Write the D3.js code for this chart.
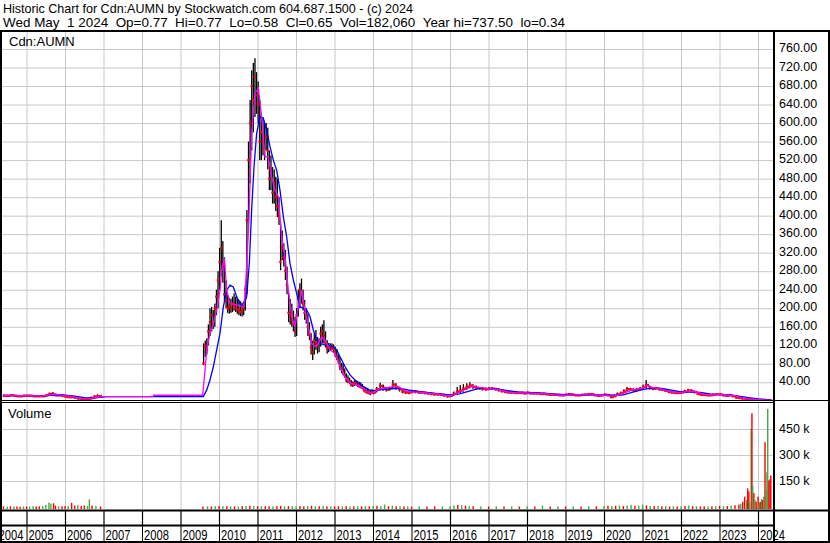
<!DOCTYPE html>
<html><head><meta charset="utf-8">
<script src="https://cdn.jsdelivr.net/npm/d3@7"></script>
<style>
body{margin:0;background:#fff}
svg{display:block}
text{font-family:"Liberation Sans",Arial,sans-serif;fill:#000}
</style>
</head><body>
<svg id="c" width="830" height="543"></svg>
<script>
// ---------------- DATA ----------------
const titleLine1 = "Historic Chart for Cdn:AUMN by Stockwatch.com 604.687.1500 - (c) 2024";
const titleLine2 = "Wed May \u00a01 2024 \u00a0Op=0.77 \u00a0Hi=0.77 \u00a0Lo=0.58 \u00a0Cl=0.65 \u00a0Vol=182,060 \u00a0Year hi=737.50 \u00a0lo=0.34";
const symbolLabel = "Cdn:AUMN";
const volumeLabel = "Volume";
const yearTicks = [2004,2005,2006,2007,2008,2009,2010,2011,2012,2013,2014,2015,2016,2017,2018,2019,2020,2021,2022,2023,2024];
const priceTicks = [40,80,120,160,200,240,280,320,360,400,440,480,520,560,600,640,680,720,760];
const volumeTicks = [150000,300000,450000];

// [year, high, low, close]
const priceEarly = [
[2004.40,14,9,11],[2004.50,13,9,11],[2004.58,14,10,12],[2004.67,13,9,11],[2004.75,13,9,10],[2004.83,12,8,10],
[2004.92,13,9,11],[2005.00,13,9,11],[2005.08,13,9,11],[2005.17,12,8,10],[2005.25,12,8,10],[2005.33,12,8,10],
[2005.42,12,8,10],[2005.50,14,9,12],[2005.58,17,11,15],[2005.67,19,12,14],[2005.75,16,10,12],[2005.83,15,10,12],
[2005.92,14,9,11],[2006.00,12,7,9],[2006.08,11,6,8],[2006.17,11,6,8],[2006.25,10,5,7],[2006.33,8,3,5],
[2006.42,7,2,4],[2006.50,6,1.5,3],[2006.58,7,2,4],[2006.67,9,3,6],[2006.75,12,5,9],[2006.83,14,7,10],[2006.92,13,7,9]
];
const priceMain = [
[2009.583,124,77,81],[2009.625,130,95,118],[2009.667,135,100,110],[2009.708,165,120,150],[2009.750,200,140,170],
[2009.792,203,150,185],[2009.833,196,155,165],[2009.875,210,160,200],[2009.917,240,185,225],[2009.958,280,200,260],
[2010.000,330,240,300],[2010.042,390,270,330],[2010.083,345,255,290],[2010.125,310,215,230],[2010.167,260,200,215],
[2010.208,228,190,200],[2010.250,222,188,205],[2010.292,220,190,200],[2010.333,225,192,210],[2010.375,232,195,205],
[2010.417,225,192,200],[2010.458,222,188,198],[2010.500,218,185,195],[2010.542,215,183,192],[2010.583,212,182,195],
[2010.625,215,185,200],[2010.667,250,195,240],[2010.708,412,230,390],[2010.750,560,383,520],[2010.792,650,470,600],
[2010.833,714,541,680],[2010.875,730,580,650],[2010.917,740,613,700],[2010.958,710,620,660],[2011.000,690,600,640],
[2011.042,650,520,560],[2011.083,620,520,580],[2011.125,613,530,560],[2011.167,600,520,545],[2011.208,600,541,570],
[2011.250,590,500,540],[2011.292,541,455,480],[2011.333,530,455,500],[2011.375,505,426,450],[2011.417,500,426,470],
[2011.458,484,410,440],[2011.500,480,397,420],[2011.542,440,380,400],[2011.583,383,282,300],[2011.625,368,304,330],
[2011.667,340,290,310],[2011.708,326,261,280],[2011.750,290,230,250],[2011.792,232,170,190],[2011.833,220,165,185],
[2011.875,210,160,175],[2011.917,195,150,165],[2011.958,182,138,150],[2012.000,200,140,185],[2012.042,240,182,220],
[2012.083,254,200,240],[2012.125,264,210,230],[2012.167,240,195,210],[2012.208,218,175,190],[2012.250,200,167,180],
[2012.292,189,140,160],[2012.333,170,131,145],[2012.375,146,100,115],[2012.417,130,88,105],[2012.458,145,100,130],
[2012.500,153,110,125],[2012.542,138,102,118],[2012.583,135,105,125],[2012.625,160,117,145],[2012.667,165,125,150],
[2012.708,174,124,140],[2012.750,150,115,125],[2012.792,131,102,115],[2012.833,125,105,115],[2012.875,124,108,118],
[2012.917,124,110,115],[2012.958,122,105,112],[2013.000,117,95,105],[2013.042,112,88,95],[2013.083,100,80,88],
[2013.125,95,66,75],[2013.167,82,60,70],[2013.208,81,55,62],[2013.250,70,50,55],[2013.292,59,40,45],
[2013.333,55,38,45],[2013.375,50,36,42],[2013.417,45,31,35],[2013.458,42,30,36],[2013.500,44,32,38],
[2013.542,45,33,40],[2013.583,43,30,35],[2013.625,41,28,33],[2013.667,40,27,30],[2013.708,36,25,28],
[2013.750,31,20,23],[2013.792,28,18,20],[2013.833,26,16,18],[2013.875,23,14,17],[2013.917,22,12,16],[2013.958,25,15,20]
];
const priceLate = [
[2014.00,22,14,18],[2014.08,30,18,25],[2014.17,39,23,32],[2014.25,35,22,28],[2014.33,28,20,24],[2014.42,30,22,27],
[2014.50,45,25,35],[2014.58,38,24,30],[2014.67,30,20,25],[2014.75,25,16,20],[2014.83,22,15,18],[2014.92,22,14,18],
[2015.00,24,16,20],[2015.08,23,16,20],[2015.17,21,15,18],[2015.25,21,15,18],[2015.33,20,14,17],[2015.42,19,13,16],
[2015.50,18,12,15],[2015.58,17,11,14],[2015.67,17,11,14],[2015.75,16,10,13],[2015.83,15,9,12],[2015.92,13,7,10],
[2016.00,14,8,11],[2016.08,20,10,15],[2016.17,30,14,20],[2016.25,34,16,22],[2016.33,36,20,26],[2016.42,38,24,30],
[2016.50,40,27,33],[2016.58,36,26,30],[2016.67,33,24,28],[2016.75,30,24,27],[2016.83,30,22,26],[2016.92,28,22,25],
[2017.00,30,23,26],[2017.08,30,23,26],[2017.17,28,22,25],[2017.25,27,20,23],[2017.33,25,18,21],[2017.42,22,17,19],
[2017.50,21,16,18],[2017.58,21,16,18],[2017.67,20,15,17],[2017.75,20,15,17],[2017.83,19,15,17],[2017.92,19,14,16],
[2018.00,20,15,17],[2018.08,19,14,16],[2018.17,18,14,16],[2018.25,19,14,16],[2018.33,18,13,15],[2018.42,18,13,15],
[2018.50,17,12,14],[2018.58,16,11,13],[2018.67,15,11,13],[2018.75,15,11,13],[2018.83,15,10,12],[2018.92,14,10,12],
[2019.00,16,11,13],[2019.08,17,12,14],[2019.17,16,11,13],[2019.25,15,10,12],[2019.33,14,10,12],[2019.42,15,11,13],
[2019.50,16,11,13],[2019.58,17,12,14],[2019.67,17,12,14],[2019.75,15,10,12],[2019.83,14,9,11],[2019.92,15,10,12],
[2020.00,16,11,13],[2020.08,15,10,12],[2020.17,13,6,8],[2020.25,14,8,10],[2020.33,18,11,14],[2020.42,20,14,16],
[2020.50,25,17,20],[2020.58,30,21,25],[2020.67,28,21,24],[2020.75,27,20,23],[2020.83,28,21,24],[2020.92,30,22,26],
[2021.00,35,25,30],[2021.08,45,27,34],[2021.17,33,24,28],[2021.25,30,23,26],[2021.33,30,24,27],[2021.42,28,22,25],
[2021.50,27,21,24],[2021.58,25,19,22],[2021.67,22,17,19],[2021.75,21,16,18],[2021.83,20,15,17],[2021.92,20,15,17],
[2022.00,21,16,18],[2022.08,24,17,20],[2022.17,26,19,22],[2022.25,25,18,21],[2022.33,22,16,19],[2022.42,18,13,15],
[2022.50,16,11,13],[2022.58,15,11,13],[2022.67,14,10,12],[2022.75,14,10,12],[2022.83,15,11,13],[2022.92,16,12,14],
[2023.00,17,12,14],[2023.08,15,10,12],[2023.17,14,9,11],[2023.25,15,10,12],[2023.33,13,8,10],[2023.42,10,5,7],
[2023.50,8,4,6],[2023.58,7,3,5],[2023.67,6,3,4],[2023.75,5,2,3],[2023.83,4,2,3],[2023.92,4,1.5,2.5],
[2024.00,3,1,2],[2024.08,2.5,1,1.5],[2024.17,2,0.5,1],[2024.25,1.5,0.4,0.8],[2024.33,0.77,0.58,0.65]
];

// short moving average (magenta), [year, value]
const maShort = [
[2004.40,11],[2004.75,11],[2005.00,11],[2005.40,10.5],[2005.60,13],[2005.75,14],[2006.00,11],[2006.25,8],[2006.50,4],
[2006.67,4.5],[2006.83,8],[2006.95,9],[2008.29,9],[2008.30,12],[2009.576,12],
[2009.636,66],[2009.68,110],[2009.766,146],[2009.853,167],[2009.94,196],[2010.026,239],[2010.07,282],[2010.138,308],
[2010.20,239],[2010.286,210],[2010.459,207],[2010.632,203],[2010.675,225],[2010.762,362],[2010.848,578],[2010.935,664],
[2011.022,675],[2011.108,614],[2011.195,527],[2011.281,527],[2011.368,484],[2011.455,455],[2011.541,441],[2011.628,354],
[2011.714,311],[2011.801,239],[2011.888,182],[2011.974,160],[2012.061,203],[2012.147,239],[2012.234,196],[2012.32,160],
[2012.407,124],[2012.494,117],[2012.58,124],[2012.667,138],[2012.753,131],[2012.883,110],[2013.013,102],[2013.143,74],
[2013.273,52],[2013.403,38],[2013.576,34],[2013.749,27],[2013.922,16],
[2014.00,18],[2014.17,26],[2014.33,28],[2014.50,30],[2014.67,30],[2014.83,22],[2015.00,19],[2015.25,18],[2015.50,16],
[2015.75,14],[2015.92,11],[2016.08,12],[2016.25,19],[2016.42,25],[2016.58,32],[2016.75,29],[2017.00,26],[2017.25,24],
[2017.50,19],[2017.75,17],[2018.00,17],[2018.25,16],[2018.50,15],[2018.75,13],[2019.00,12],[2019.25,13],[2019.50,13],
[2019.75,13],[2020.00,12.5],[2020.25,10],[2020.50,16],[2020.75,24],[2021.00,27],[2021.12,33],[2021.25,29],[2021.50,25],
[2021.75,19],[2022.00,17.5],[2022.20,21],[2022.40,19],[2022.60,14],[2022.80,12.5],[2023.00,14],[2023.20,12],[2023.40,11],
[2023.55,7],[2023.75,4],[2024.00,2.5],[2024.33,1]
];
// long moving average (blue)
const maLong = [
[2004.40,11],[2005.00,11],[2005.50,11],[2005.75,12.5],[2006.00,12],[2006.25,10],[2006.50,7],[2006.75,6],[2006.95,8],
[2007.10,9],[2009.593,9],[2009.68,23],[2009.766,45],[2009.853,74],[2009.94,110],[2010.026,146],[2010.113,203],
[2010.20,239],[2010.286,250],[2010.372,246],[2010.459,225],[2010.545,210],[2010.632,203],[2010.719,225],[2010.788,297],
[2010.848,412],[2010.909,505],[2010.978,578],[2011.065,614],[2011.152,610],[2011.238,585],[2011.325,549],[2011.411,520],
[2011.498,498],[2011.584,455],[2011.671,398],[2011.758,354],[2011.844,297],[2011.931,261],[2012.017,232],[2012.104,203],
[2012.19,200],[2012.277,196],[2012.364,182],[2012.45,153],[2012.537,131],[2012.623,124],[2012.797,120],[2012.97,117],
[2013.056,110],[2013.143,95],[2013.273,74],[2013.403,56],[2013.576,41],[2013.749,31],[2013.922,23],
[2014.00,22],[2014.25,24],[2014.50,27],[2014.75,26],[2015.00,22],[2015.25,19],[2015.50,17],[2015.75,15],[2016.00,13],
[2016.25,15],[2016.50,21],[2016.75,27],[2017.00,27],[2017.25,25],[2017.50,22],[2017.75,19],[2018.00,18],[2018.25,17],
[2018.50,16],[2018.75,14.5],[2019.00,13.5],[2019.50,13],[2020.00,13],[2020.25,12],[2020.50,13],[2020.75,19],[2021.00,24],
[2021.25,28],[2021.50,27],[2021.75,23],[2022.00,19],[2022.25,19],[2022.50,18],[2022.75,15],[2023.00,13.5],[2023.25,13],
[2023.50,10],[2023.75,7],[2024.00,4],[2024.33,2]
];

// [year, volume, up(1)/down(0)]
const volumeData = [
[2004.40,3000,0],[2004.50,2000,1],[2004.58,4000,0],[2004.67,2500,1],[2004.75,3000,0],[2004.83,2000,0],[2004.92,3500,1],
[2005.00,3000,0],[2005.08,2500,1],[2005.17,5000,1],[2005.25,3000,0],[2005.33,4000,0],[2005.42,6000,1],[2005.50,12000,1],
[2005.58,26000,1],[2005.63,20000,1],[2005.70,22000,0],[2005.75,8000,0],[2005.83,5000,1],[2005.92,4000,0],
[2006.00,6000,0],[2006.08,5000,1],[2006.17,24000,0],[2006.25,8000,0],[2006.33,12000,1],[2006.42,6000,0],
[2006.50,9000,0],[2006.58,7000,1],[2006.63,44000,1],[2006.70,8000,0],[2006.80,6000,1],[2006.92,4000,0],
[2009.58,3000,0],[2009.70,4000,1],[2009.80,3000,0],[2009.90,5000,1],[2010.00,6000,0],[2010.10,4000,1],[2010.20,5000,0],
[2010.30,3000,1],[2010.40,4000,0],[2010.50,3000,1],[2010.60,5000,0],[2010.70,6000,1],[2010.80,8000,0],[2010.90,6000,1],
[2011.00,5000,0],[2011.10,4000,1],[2011.20,5000,0],[2011.30,4000,0],[2011.40,3000,1],[2011.50,5000,0],[2011.60,6000,0],
[2011.70,4000,1],[2011.80,5000,0],[2011.90,4000,1],[2012.00,5000,1],[2012.10,6000,0],[2012.20,4000,0],[2012.30,5000,1],
[2012.40,7000,0],[2012.50,4000,1],[2012.60,5000,0],[2012.70,6000,1],[2012.80,4000,0],[2012.90,3000,1],[2013.00,4000,0],
[2013.10,5000,0],[2013.20,4000,1],[2013.30,5000,0],[2013.40,3000,1],[2013.50,4000,0],[2013.60,5000,1],[2013.70,4000,0],
[2013.80,5000,1],[2013.90,4000,0],[2014.00,6000,1],[2014.10,7000,0],[2014.20,5000,1],[2014.30,14000,1],[2014.40,5000,0],
[2014.50,8000,1],[2014.60,4000,0],[2014.70,5000,1],[2014.80,3000,0],[2014.90,4000,1],[2015.00,3000,0],[2015.20,4000,1],
[2015.40,3000,0],[2015.60,4000,0],[2015.80,3000,1],[2016.00,5000,1],[2016.10,9000,1],[2016.20,12000,0],[2016.30,10000,1],
[2016.40,8000,0],[2016.50,6000,1],[2016.60,5000,0],[2016.80,4000,1],[2017.00,3000,0],[2017.20,4000,1],[2017.40,3000,0],
[2017.60,4000,1],[2017.80,3000,0],[2018.00,4000,1],[2018.20,3000,0],[2018.40,9000,1],[2018.60,3000,0],[2018.80,4000,1],
[2019.00,3000,0],[2019.20,4000,1],[2019.40,3000,0],[2019.60,5000,1],[2019.80,4000,0],[2020.00,6000,1],[2020.10,8000,0],
[2020.20,5000,1],[2020.30,7000,0],[2020.40,9000,1],[2020.50,6000,0],[2020.60,8000,1],[2020.70,12000,1],[2020.80,7000,0],
[2020.90,9000,1],[2021.00,14000,1],[2021.10,10000,0],[2021.20,6000,1],[2021.30,5000,0],[2021.40,7000,1],[2021.50,4000,0],
[2021.60,5000,1],[2021.70,3000,0],[2021.80,4000,1],[2021.90,3000,0],[2022.00,4000,1],[2022.10,6000,0],[2022.20,9000,1],
[2022.30,5000,0],[2022.40,4000,1],[2022.50,3000,0],[2022.60,4000,0],[2022.70,3000,1],[2022.80,4000,0],[2022.90,5000,1],
[2023.00,6000,0],[2023.10,5000,1],[2023.20,6000,0],[2023.30,8000,1],[2023.40,10000,0],[2023.50,14000,0],[2023.55,20000,1],
[2023.60,30000,0],[2023.65,60000,0],[2023.70,40000,1],[2023.73,107000,0],[2023.76,90000,0],[2023.78,30000,1],
[2023.82,453000,1],[2023.84,541000,0],[2023.86,124000,1],[2023.89,80000,0],[2023.92,40000,1],[2023.95,30000,0],
[2024.00,60000,0],[2024.03,25000,1],[2024.06,30000,0],[2024.09,45000,1],[2024.12,40000,0],[2024.15,60000,1],
[2024.18,374000,0],[2024.21,100000,1],[2024.23,200000,1],[2024.25,566000,1],[2024.28,153000,0],[2024.31,160000,0],[2024.33,182060,0]
];

// ---------------- DRAW ----------------
const svg = d3.select("#c");
const PL = 1, PR = 774;          // plot left/right
const PT = 32, PB = 400;         // price panel
const VT = 403, VB = 510;        // volume panel

const x = d3.scaleLinear().domain([2005, 2024]).range([26.5, 758]);
const y = d3.scaleLinear().domain([0, 760]).range([400.8, 49]);
const yv = d3.scaleLinear().domain([0, 450000]).range([507, 429]);
const grid = "#c8c8c8";

svg.append("rect").attr("width", 830).attr("height", 543).attr("fill", "#fff");

// header
const hdr = svg.append("g").attr("font-size", 13.2);
hdr.append("text").attr("x", 3).attr("y", 12.5).attr("textLength", 410).attr("lengthAdjust", "spacingAndGlyphs").text(titleLine1);
hdr.append("text").attr("x", 3).attr("y", 26.5).attr("textLength", 562).attr("lengthAdjust", "spacingAndGlyphs").text(titleLine2);

// clip for plot
const defs = svg.append("defs");
defs.append("clipPath").attr("id", "cp").append("rect").attr("x", PL).attr("y", PT).attr("width", PR - PL).attr("height", PB - PT);
defs.append("clipPath").attr("id", "cv").append("rect").attr("x", PL).attr("y", VT).attr("width", PR - PL).attr("height", VB - VT);

// price grid
const gy = svg.append("g").attr("transform", `translate(${PR},0)`)
  .call(d3.axisLeft(y).tickValues(priceTicks).tickSize(PR - PL).tickFormat(""));
gy.select(".domain").remove();
gy.selectAll("line").attr("stroke", grid);

const xYears = yearTicks.filter(d => x(d) > PL && x(d) < PR);
const gxP = svg.append("g").attr("transform", `translate(0,${PB})`)
  .call(d3.axisTop(x).tickValues(xYears).tickSize(PB - PT).tickFormat(""));
gxP.select(".domain").remove();
gxP.selectAll("line").attr("stroke", grid);

// volume grid
const gyv = svg.append("g").attr("transform", `translate(${PR},0)`)
  .call(d3.axisLeft(yv).tickValues(volumeTicks).tickSize(PR - PL).tickFormat(""));
gyv.select(".domain").remove();
gyv.selectAll("line").attr("stroke", grid);
const gxV = svg.append("g").attr("transform", `translate(0,${VB})`)
  .call(d3.axisTop(x).tickValues(xYears).tickSize(VB - VT).tickFormat(""));
gxV.select(".domain").remove();
gxV.selectAll("line").attr("stroke", grid);

// price bars
const allPrice = [priceEarly, priceMain, priceLate];
const pg = svg.append("g").attr("clip-path", "url(#cp)");
allPrice.forEach(series => {
  series.forEach((d, i) => {
    const nx = i < series.length - 1 ? x(series[i + 1][0]) : x(d[0]) + 1.6;
    const cx = x(d[0]);
    const w = Math.max(1.2, nx - cx);
    pg.append("rect").attr("x", cx).attr("y", y(d[1])).attr("width", 1.3)
      .attr("height", Math.max(1, y(d[2]) - y(d[1]))).attr("fill", "#000");
    pg.append("rect").attr("x", cx - 0.6).attr("y", y(d[3]) - 1.2).attr("width", w + 0.6).attr("height", 2.4).attr("fill", "#ff0000");
  });
});

// moving averages
const line = d3.line().x(d => x(d[0])).y(d => y(d[1]));
pg.append("path").datum(maLong).attr("d", line).attr("fill", "none").attr("stroke", "#0000ff").attr("stroke-width", 1.3);
pg.append("path").datum(maShort).attr("d", line).attr("fill", "none").attr("stroke", "#ff00ff").attr("stroke-width", 1.3);

// volume bars
const vg = svg.append("g").attr("clip-path", "url(#cv)");
vg.selectAll("rect").data(volumeData).join("rect")
  .attr("x", d => x(d[0]) - 0.6).attr("width", 1.4)
  .attr("y", d => yv(d[1])).attr("height", d => Math.max(0.6, yv(0) + 2 - yv(d[1])))
  .attr("fill", d => d[2] ? "#44aa44" : "#ff0000");

// labels in panels
svg.append("text").attr("x", 9).attr("y", 46).attr("font-size", 13).text(symbolLabel);
svg.append("text").attr("x", 8).attr("y", 418).attr("font-size", 13).text(volumeLabel);

// right axes
const ay = svg.append("g").attr("transform", `translate(${PR},0)`)
  .call(d3.axisRight(y).tickValues(priceTicks).tickSize(0).tickPadding(5).tickFormat(d3.format(".2f")));
ay.select(".domain").remove();
ay.selectAll("text").attr("font-size", 12.5).attr("font-family", "Liberation Sans, Arial, sans-serif").attr("fill", "#000").attr("dy", "0.2em");
const ayv = svg.append("g").attr("transform", `translate(${PR},0)`)
  .call(d3.axisRight(yv).tickValues(volumeTicks).tickSize(0).tickPadding(5).tickFormat(d => (d / 1000) + " k"));
ayv.select(".domain").remove();
ayv.selectAll("text").attr("font-size", 12.5).attr("font-family", "Liberation Sans, Arial, sans-serif").attr("fill", "#000").attr("dy", "0.25em");

// bottom x axis: tick row and label row
const ax = svg.append("g").attr("transform", `translate(0,511)`)
  .call(d3.axisBottom(x).tickValues(xYears).tickSize(15).tickFormat(""));
ax.select(".domain").remove();
ax.selectAll("line").attr("stroke", "#000").attr("stroke-width", 1.2);
const axl = svg.append("g").attr("transform", `translate(0,526)`)
  .call(d3.axisBottom(x).tickValues(xYears).tickSize(17).tickFormat(""));
axl.select(".domain").remove();
axl.selectAll("line").attr("stroke", "#000").attr("stroke-width", 1);
svg.append("g").selectAll("text").data(yearTicks).join("text")
  .attr("transform", d => `translate(${Math.max(x(d) + 2, -1.5)},540) scale(1,1.3)`)
  .attr("font-size", 11.2)
  .text(d => d);

// frame lines
const blk = (x1, y1, x2, y2, w) => svg.append("line").attr("x1", x1).attr("y1", y1).attr("x2", x2).attr("y2", y2).attr("stroke", "#000").attr("stroke-width", w);
blk(0, 31, 830, 31, 2);
blk(0, 400.5, 830, 400.5, 1);
blk(0, 402.5, PR, 402.5, 1);
blk(0, 510.5, 830, 510.5, 2);
blk(0, 525.5, PR, 525.5, 2);
blk(0, 542, 830, 542, 2);
blk(1, 30, 1, 543, 2);
blk(PR, 30, PR, 543, 2);
blk(829, 30, 829, 543, 2);
</script>
</body></html>
